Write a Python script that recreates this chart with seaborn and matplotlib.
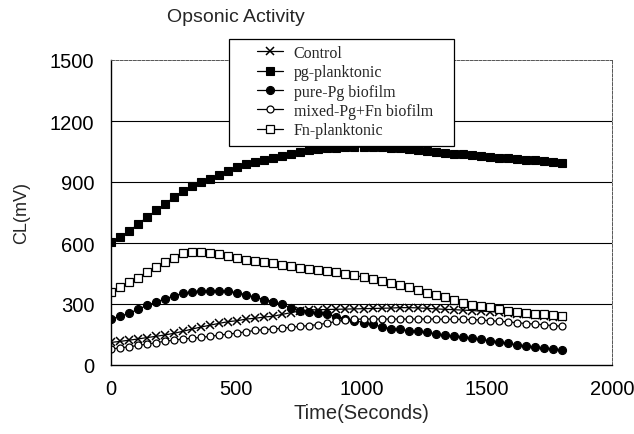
import numpy as np
import pandas as pd
import matplotlib
matplotlib.use("Agg")
import matplotlib.pyplot as plt
from matplotlib.patches import Rectangle
import seaborn as sns

# ---- data ----
time_s = list(range(0, 1801, 36))

control = [111, 116, 122, 128, 135, 141, 148, 156, 166, 177,
           187, 196, 205, 213, 218, 226, 230, 236, 240, 249,
           258, 266, 271, 272, 273, 274, 275, 276, 277, 278,
           279, 280, 282, 282, 281, 279, 276, 274, 272, 270,
           268, 265, 263, 260, 256, 253, 249, 245, 242, 238, 234]

pg_planktonic = [603, 628, 658, 692, 727, 760, 792, 825, 857, 880,
                 900, 917, 936, 955, 972, 988, 998, 1008, 1020, 1030,
                 1040, 1048, 1055, 1062, 1065, 1068, 1070, 1071, 1072, 1072,
                 1070, 1068, 1065, 1064, 1058, 1053, 1048, 1044, 1040, 1037,
                 1034, 1030, 1025, 1020, 1017, 1013, 1010, 1007, 1003, 999, 994]

pure_pg_biofilm = [226, 239, 254, 274, 293, 310, 325, 340, 353, 360,
                   365, 366, 366, 362, 356, 345, 333, 322, 312, 298,
                   280, 266, 262, 258, 250, 238, 228, 218, 209, 200,
                   188, 179, 175, 169, 165, 160, 154, 148, 142, 137,
                   131, 126, 120, 114, 106, 100, 94, 89, 84, 79, 74]

mixed_biofilm = [79, 84, 90, 96, 103, 110, 117, 123, 128, 132,
                 136, 141, 147, 152, 157, 164, 170, 174, 177, 181,
                 186, 190, 194, 199, 206, 215, 221, 225, 226, 226,
                 226, 226, 226, 226, 226, 226, 226, 225, 225, 224,
                 223, 221, 218, 215, 212, 208, 204, 201, 198, 194, 190]

fn_planktonic = [359, 384, 406, 430, 458, 480, 506, 528, 550, 555,
                 556, 552, 544, 535, 526, 517, 510, 505, 500, 494,
                 485, 477, 470, 466, 462, 458, 450, 441, 432, 423,
                 415, 405, 395, 382, 368, 356, 345, 333, 319, 306,
                 297, 289, 284, 275, 266, 262, 257, 253, 249, 244, 240]

series_names = ["Control", "pg-planktonic", "pure-Pg biofilm",
                "mixed-Pg+Fn biofilm", "Fn-planktonic"]
series_values = [control, pg_planktonic, pure_pg_biofilm, mixed_biofilm, fn_planktonic]

y_ticks = [0, 300, 600, 900, 1200, 1500]
x_ticks = [0, 500, 1000, 1500, 2000]

# ---- styling ----
sns.set_style("white")
plt.rcParams["font.family"] = ["Liberation Sans", "DejaVu Sans"]

styles = {
    "Control": dict(marker="x", markersize=5.5, markerfacecolor="black",
                    markeredgecolor="black", markeredgewidth=1.1),
    "pg-planktonic": dict(marker="s", markersize=6.0, markerfacecolor="black",
                          markeredgecolor="black", markeredgewidth=0.8),
    "pure-Pg biofilm": dict(marker="o", markersize=5.8, markerfacecolor="black",
                            markeredgecolor="black", markeredgewidth=0.8),
    "mixed-Pg+Fn biofilm": dict(marker="o", markersize=5.0, markerfacecolor="white",
                                markeredgecolor="black", markeredgewidth=0.9),
    "Fn-planktonic": dict(marker="s", markersize=5.5, markerfacecolor="white",
                          markeredgecolor="black", markeredgewidth=0.9),
}

fig = plt.figure(figsize=(6.34, 4.35), dpi=100)
ax = fig.add_axes([111 / 634, 1 - 366 / 435, (612 - 111) / 634, (366 - 61) / 435])

for name, vals in zip(series_names, series_values):
    df = pd.DataFrame({"Time": time_s, "CL": vals})
    sns.lineplot(data=df, x="Time", y="CL", ax=ax, color="black", linewidth=0.9,
                 label=name, errorbar=None, **styles[name])

ax.set_xlim(0, 2000)
ax.set_ylim(0, 1500)
ax.set_xticks(x_ticks)
ax.set_yticks(y_ticks)
ax.tick_params(axis="both", length=0, labelsize=14.5, colors="black")
ax.tick_params(axis="y", pad=12)
ax.tick_params(axis="x", pad=10)

# horizontal gridlines
for yv in y_ticks[1:-1]:
    ax.axhline(yv, color="black", linewidth=0.8, zorder=0.5)

for side in ["left", "bottom"]:
    ax.spines[side].set_color("black")
    ax.spines[side].set_linewidth(1.0)
for side in ["top", "right"]:
    ax.spines[side].set_color("#555555")
    ax.spines[side].set_linewidth(0.7)
    ax.spines[side].set_linestyle((0, (3, 1.5)))

ax.set_xlabel("Time(Seconds)", fontsize=14.5, labelpad=4)
ax.set_ylabel("CL(mV)", fontsize=13, labelpad=14)

fig.text(167 / 634, 1 - 18 / 435, "Opsonic Activity", fontsize=14, ha="left", va="center")

# legend with box overlapping the plot top
handles, labels = ax.get_legend_handles_labels()
if ax.get_legend() is not None:
    ax.get_legend().remove()

box = Rectangle((229 / 634, 1 - 147 / 435), (454 - 229) / 634, (147 - 40) / 435,
                transform=fig.transFigure, facecolor="white", edgecolor="black",
                linewidth=0.9, zorder=5)
fig.patches.append(box)

leg = fig.legend(handles, labels, loc="upper left",
                 bbox_to_anchor=(257 / 634, 1 - 46 / 435),
                 bbox_transform=fig.transFigure, frameon=False,
                 prop={"family": ["Liberation Serif"], "size": 11.5},
                 handlelength=1.6, handletextpad=0.7, labelspacing=0.21,
                 borderpad=0.0, borderaxespad=0.0)
leg.set_zorder(6)

fig.savefig("out.png", dpi=100)
